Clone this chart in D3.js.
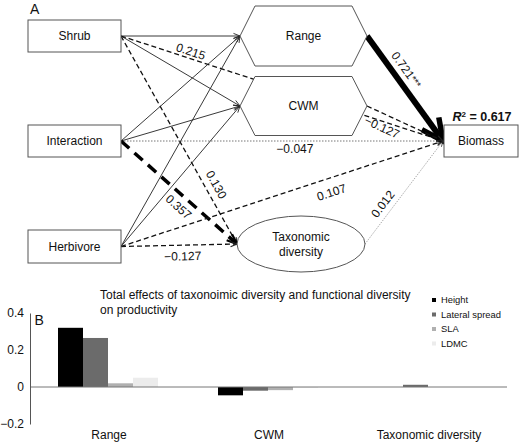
<!DOCTYPE html>
<html>
<head>
<meta charset="utf-8">
<script src="https://cdn.jsdelivr.net/npm/d3@7"></script>
<style>
  body { margin: 0; background: #fff; }
  svg { display: block; font-family: "Liberation Sans", Arial, Helvetica, sans-serif; }
</style>
</head>
<body>
<div id="chart"></div>
<script>
// ---- Panel A data: path model ----
const nodeNames = ["Shrub", "Interaction", "Herbivore", "Range", "CWM", "Taxonomic diversity", "Biomass"];
const edgeFrom = ["Shrub", "Shrub", "Shrub", "Shrub", "Interaction", "Interaction", "Interaction", "Interaction",
                  "Herbivore", "Herbivore", "Herbivore", "Herbivore", "Range", "CWM", "Taxonomic diversity"];
const edgeTo = ["Range", "CWM", "Biomass", "Taxonomic diversity", "Range", "CWM", "Biomass", "Taxonomic diversity",
                "Range", "CWM", "Biomass", "Taxonomic diversity", "Biomass", "Biomass", "Biomass"];
const edgeCoef = [null, null, 0.215, 0.130, null, null, -0.047, 0.357, null, null, 0.107, -0.127, 0.721, -0.127, 0.012];
const edgeSig = ["", "", "", "", "", "", "", "", "", "", "", "", "***", "", ""];
const edgeType = ["fixed", "fixed", "ns", "ns", "fixed", "fixed", "weak", "p05", "fixed", "fixed", "ns", "ns", "p001", "ns", "weakLight"];
const biomassR2 = 0.617;

// ---- Panel B data: total effects ----
const groups = ["Range", "CWM", "Taxonomic diversity"];
const traits = ["Height", "Lateral spread", "SLA", "LDMC"];
const heightVals = [0.32, -0.045, 0];
const lateralVals = [0.265, -0.02, 0.012];
const slaVals = [0.02, -0.017, 0];
const ldmcVals = [0.05, -0.004, 0];
const yTicks = [0.4, 0.2, 0, -0.2];

const width = 520, height = 442;
const svg = d3.select("#chart").append("svg")
    .attr("width", width)
    .attr("height", height)
    .attr("viewBox", `0 0 ${width} ${height}`);

// layout of the diagram nodes
const nodeLayout = {
  "Shrub":               { shape: "rect", cx: 74.5, cy: 36, w: 93, h: 32 },
  "Interaction":         { shape: "rect", cx: 74.5, cy: 141, w: 93, h: 32 },
  "Herbivore":           { shape: "rect", cx: 74.5, cy: 246.5, w: 93, h: 33 },
  "Range":               { shape: "hex", cx: 303.5, cy: 36, w: 127, h: 60, inset: 15 },
  "CWM":                 { shape: "hex", cx: 303.5, cy: 106, w: 127, h: 59, inset: 15 },
  "Taxonomic diversity": { shape: "ellipse", cx: 301, cy: 244, rx: 64, ry: 28 },
  "Biomass":             { shape: "rect", cx: 481, cy: 141, w: 74, h: 32 }
};

// where the coefficient sits along each edge: t = fraction of the way, d = perpendicular offset
const labelPlace = {
  "Shrub>Biomass": { t: 0.21, d: -7 },
  "Shrub>Taxonomic diversity": { t: 0.74, d: -11 },
  "Interaction>Biomass": { t: 0.54, d: 8 },
  "Interaction>Taxonomic diversity": { t: 0.56, d: 11 },
  "Herbivore>Biomass": { t: 0.64, d: 14 },
  "Herbivore>Taxonomic diversity": { t: 0.53, d: 11 },
  "Range>Biomass": { t: 0.39, d: -12 },
  "CWM>Biomass": { t: 0.27, d: 13 },
  "Taxonomic diversity>Biomass": { t: 0.33, d: -10 }
};

const lineStyle = {
  fixed:     { stroke: "#222", width: 0.9, dash: null, head: 7, headW: 0.9 },
  ns:        { stroke: "#111", width: 1.3, dash: "5,3", head: 7, headW: 1.1 },
  weak:      { stroke: "#777", width: 1, dash: "1.5,1.5", head: 6, headW: 0.8 },
  weakLight: { stroke: "#999", width: 0.9, dash: "1.2,1.2", head: 6, headW: 0.8 },
  p05:       { stroke: "#000", width: 3.5, dash: "11,7", head: 11, headW: 2.2 },
  p001:      { stroke: "#000", width: 6, dash: null, head: 24, headW: 5.5 }
};

function outPort(name) {
  const n = nodeLayout[name];
  if (n.shape === "ellipse") return [n.cx + n.rx, n.cy];
  return [n.cx + n.w / 2, n.cy];
}
function inPort(name) {
  const n = nodeLayout[name];
  if (n.shape === "ellipse") return [n.cx - n.rx, n.cy];
  if (name === "Biomass") return [n.cx - n.w / 2 - 1, n.cy];
  return [n.cx - n.w / 2, n.cy];
}

const edges = edgeFrom.map((f, i) => ({
  from: f, to: edgeTo[i], coef: edgeCoef[i], sig: edgeSig[i], type: edgeType[i],
  p0: outPort(f), p1: inPort(edgeTo[i])
}));

const gA = svg.append("g");

// panel letter
gA.append("text").attr("x", 30).attr("y", 14)
  .style("font-size", "14px").attr("fill", "#111").text("A");

// edges
const gEdges = gA.append("g");
edges.forEach(e => {
  const s = lineStyle[e.type];
  const [x0, y0] = e.p0, [x1, y1] = e.p1;
  const len = Math.hypot(x1 - x0, y1 - y0);
  const ux = (x1 - x0) / len, uy = (y1 - y0) / len;
  const shorten = e.type === "p001" ? 4 : 0;
  gEdges.append("line")
    .attr("x1", x0).attr("y1", y0)
    .attr("x2", x1 - ux * shorten).attr("y2", y1 - uy * shorten)
    .attr("stroke", s.stroke)
    .attr("stroke-width", s.width)
    .attr("stroke-dasharray", s.dash);
  // open arrow head
  const a = Math.atan2(uy, ux), spread = e.type === "p001" ? 0.45 : 0.38;
  const hx1 = x1 - s.head * Math.cos(a - spread), hy1 = y1 - s.head * Math.sin(a - spread);
  const hx2 = x1 - s.head * Math.cos(a + spread), hy2 = y1 - s.head * Math.sin(a + spread);
  gEdges.append("path")
    .attr("d", `M${hx1},${hy1}L${x1},${y1}L${hx2},${hy2}`)
    .attr("fill", "none")
    .attr("stroke", e.type === "p001" || e.type === "p05" ? "#000" : "#222")
    .attr("stroke-width", s.headW)
    .attr("stroke-linejoin", "miter");
});

// nodes (white fill hides lines running behind them)
const gNodes = gA.append("g");
nodeNames.forEach(name => {
  const n = nodeLayout[name];
  if (n.shape === "rect") {
    gNodes.append("rect")
      .attr("x", n.cx - n.w / 2).attr("y", n.cy - n.h / 2)
      .attr("width", n.w).attr("height", n.h)
      .attr("fill", "#fff").attr("stroke", "#555").attr("stroke-width", 1);
  } else if (n.shape === "hex") {
    const hw = n.w / 2, hh = n.h / 2;
    const pts = [[n.cx - hw, n.cy], [n.cx - hw + n.inset, n.cy - hh], [n.cx + hw - n.inset, n.cy - hh],
                 [n.cx + hw, n.cy], [n.cx + hw - n.inset, n.cy + hh], [n.cx - hw + n.inset, n.cy + hh]];
    gNodes.append("polygon")
      .attr("points", pts.map(p => p.join(",")).join(" "))
      .attr("fill", "#fff").attr("stroke", "#555").attr("stroke-width", 1);
  } else {
    gNodes.append("ellipse")
      .attr("cx", n.cx).attr("cy", n.cy).attr("rx", n.rx).attr("ry", n.ry)
      .attr("fill", "#fff").attr("stroke", "#555").attr("stroke-width", 1);
  }
  const words = name === "Taxonomic diversity" ? ["Taxonomic", "diversity"] : [name];
  const t = gNodes.append("text")
    .attr("text-anchor", "middle")
    .attr("fill", "#111")
    .style("font-size", "12px");
  words.forEach((w, i) => {
    t.append("tspan")
      .attr("x", n.cx)
      .attr("y", n.cy + 4.3 + (i - (words.length - 1) / 2) * 14.5)
      .text(w);
  });
});

// R squared above Biomass
const r2 = gA.append("text")
  .attr("x", nodeLayout.Biomass.cx + 1).attr("y", 121)
  .attr("text-anchor", "middle")
  .style("font-size", "12.5px").style("font-weight", "bold").attr("fill", "#111");
r2.append("tspan").style("font-style", "italic").text("R");
r2.append("tspan").attr("dy", -4).style("font-size", "8px").text("2");
r2.append("tspan").attr("dy", 4).text(" = " + d3.format(".3f")(biomassR2));

// coefficient labels
const fmt = d3.format(".3f");
edges.filter(e => e.coef !== null).forEach(e => {
  const place = labelPlace[e.from + ">" + e.to];
  const [x0, y0] = e.p0, [x1, y1] = e.p1;
  const len = Math.hypot(x1 - x0, y1 - y0);
  const ux = (x1 - x0) / len, uy = (y1 - y0) / len;
  const cx = x0 + (x1 - x0) * place.t - uy * place.d;
  const cy = y0 + (y1 - y0) * place.t + ux * place.d;
  const ang = Math.atan2(uy, ux) * 180 / Math.PI;
  const t = gA.append("text")
    .attr("transform", `translate(${cx},${cy}) rotate(${ang})`)
    .attr("text-anchor", "middle")
    .attr("dy", "0.35em")
    .attr("fill", "#111")
    .style("font-size", "12px")
    .text(fmt(e.coef));
  if (e.sig) t.append("tspan").style("font-size", "10px").attr("dy", -1).text(e.sig);
});

// ---- Panel B: bar chart ----
const series = [heightVals, lateralVals, slaVals, ldmcVals];
const barColors = ["#000", "#6b6b6b", "#b0b0b0", "#ececec"];

const x0 = d3.scaleBand().domain(groups).range([28, 508]).paddingInner(0.375).paddingOuter(0.1875);
const x1 = d3.scaleBand().domain(traits).range([0, x0.bandwidth()]);
const y = d3.scaleLinear().domain([-0.2, 0.4]).range([424, 313]);
const color = d3.scaleOrdinal().domain(traits).range(barColors);

const gB = svg.append("g");

const barData = groups.flatMap((g, gi) => traits.map((tr, ti) => ({ group: g, trait: tr, value: series[ti][gi] })));
gB.append("g").selectAll("rect")
  .data(barData.filter(d => d.value !== 0))
  .join("rect")
  .attr("x", d => x0(d.group) + x1(d.trait))
  .attr("y", d => y(Math.max(0, d.value)))
  .attr("width", x1.bandwidth())
  .attr("height", d => Math.abs(y(d.value) - y(0)))
  .attr("fill", d => color(d.trait));

// zero line
gB.append("line")
  .attr("x1", 30).attr("x2", 507)
  .attr("y1", y(0)).attr("y2", y(0))
  .attr("stroke", "#777").attr("stroke-width", 1);

// y axis
const yAxis = gB.append("g")
  .attr("transform", "translate(30,0)")
  .call(d3.axisLeft(y).tickValues(yTicks).tickSize(0).tickPadding(6)
    .tickFormat(d => d === 0 ? "0" : d3.format(".1f")(d)));
yAxis.select(".domain").attr("stroke", "#555").attr("stroke-width", 1);
yAxis.selectAll("text")
  .style("font-size", "12px")
  .style("font-family", "'Liberation Sans', Arial, sans-serif")
  .attr("fill", "#111");

// category labels
gB.append("g").selectAll("text")
  .data(groups)
  .join("text")
  .attr("x", d => x0(d) + x0.bandwidth() / 2 + 1)
  .attr("y", 439)
  .attr("text-anchor", "middle")
  .attr("fill", "#111")
  .style("font-size", "12px")
  .text(d => d);

// panel letter and title
gB.append("text").attr("x", 34.5).attr("y", 325)
  .style("font-size", "14px").attr("fill", "#111").text("B");

const title = gB.append("text")
  .attr("fill", "#111")
  .style("font-size", "12px");
title.append("tspan").attr("x", 100).attr("y", 299)
  .text("Total effects of taxonoimic diversity and functional diversity");
title.append("tspan").attr("x", 100).attr("y", 314)
  .text("on productivity");

// legend
const legend = gB.append("g").selectAll("g")
  .data(traits)
  .join("g")
  .attr("transform", (d, i) => `translate(432,${300 + i * 14.5})`);
legend.append("rect")
  .attr("x", 0).attr("y", -2).attr("width", 4).attr("height", 4)
  .attr("fill", d => color(d));
legend.append("text")
  .attr("x", 9).attr("dy", "0.35em")
  .attr("fill", "#111")
  .style("font-size", "9.4px")
  .text(d => d);
</script>
</body>
</html>
